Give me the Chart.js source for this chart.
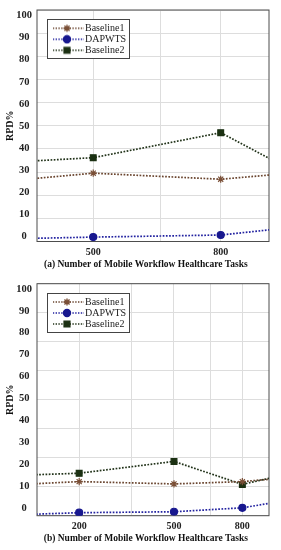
<!DOCTYPE html>
<html>
<head>
<meta charset="utf-8">
<script src="https://cdn.jsdelivr.net/npm/chart.js@4.4.1/dist/chart.umd.min.js"></script>
<style>
  body { margin: 0; background: #fff; }
  .box { position: relative; width: 281px; height: 275px; }
</style>
</head>
<body>
<div class="box"><canvas id="chartA"></canvas></div>
<div class="box"><canvas id="chartB"></canvas></div>
<script>
 const seriesNames = ['Baseline1', 'DAPWTS', 'Baseline2'];
 const yTicks = [0, 10, 20, 30, 40, 50, 60, 70, 80, 90, 100];

 // (a) - first and last task counts lie outside the visible range
 const tasksA = [200, 500, 800, 1100];
 const baseline1A = [22.6, 29.5, 26.9, 30.8];
 const dapwtsA = [0.3, 1.9, 2.8, 7.6];
 const baseline2A = [32.1, 36.2, 47.0, 22.9];
 const xGridA = [500, 650, 800];
 const xLabelsA = [500, 800];
 const yGridA = [0, 10, 20, 30, 40, 50, 60, 70, 80, 90, 100];
 const captionA = '(a) Number of Mobile Workflow Healthcare Tasks';

 // (b)
 const tasksB = [50, 200, 500, 800, 1100];
 const baseline1B = [13.0, 14.7, 13.7, 14.7, 16.8];
 const dapwtsB = [0.1, 1.3, 1.7, 3.4, 7.4];
 const baseline2B = [17.1, 18.3, 23.4, 13.5, 19.0];
 const xGridB = [200, 350, 500, 650, 800];
 const xLabelsB = [200, 500, 800];
 const yGridB = [0, 12.5, 25, 37.5, 50, 62.5, 75, 87.5, 100];
 const captionB = '(b) Number of Mobile Workflow Healthcare Tasks';

 const serif = "'Liberation Serif', 'Times New Roman', serif";
 Chart.defaults.font.family = serif;

 const styles = [
   { color: '#6a452f', point: 'star',   radius: 3.6, fill: '#7a4f36' },
   { color: '#2222a0', point: 'circle', radius: 3.5, fill: '#18188f' },
   { color: '#22331a', point: 'rect',   radius: 4.1, fill: '#1b3012' }
 ];

 // x axis of the figure is square-root spaced
 class SqrtScale extends Chart.LinearScale {
   getPixelForValue(value) {
     const lo = Math.sqrt(this.min), hi = Math.sqrt(this.max);
     return this.getPixelForDecimal((Math.sqrt(value) - lo) / (hi - lo));
   }
   getValueForPixel(pixel) {
     const lo = Math.sqrt(this.min), hi = Math.sqrt(this.max);
     const s = lo + this.getDecimalForPixel(pixel) * (hi - lo);
     return s * s;
   }
 }
 SqrtScale.id = 'sqrt';
 SqrtScale.defaults = Chart.LinearScale.defaults;
 Chart.register(SqrtScale);

 function toPoints(xs, ys) {
   return ys.map((v, i) => ({ x: xs[i], y: v }));
 }

 function legendSample(st) {
   const c = document.createElement('canvas');
   c.width = 34; c.height = 10;
   const g = c.getContext('2d');
   g.strokeStyle = st.color; g.lineWidth = 1.4; g.setLineDash([1.4, 1.4]);
   g.beginPath(); g.moveTo(0, 5); g.lineTo(34, 5); g.stroke();
   g.setLineDash([]);
   g.fillStyle = st.fill; g.strokeStyle = st.fill;
   Chart.helpers.drawPoint(g, { pointStyle: st.point, radius: st.radius, borderWidth: 1.2 }, 17, 5);
   return c;
 }

 const frame = {
   id: 'frame',
   beforeDatasetsDraw(chart) {
     const { ctx, chartArea: a } = chart;
     ctx.save();
     ctx.strokeStyle = '#4d4d4d';
     ctx.lineWidth = 1;
     ctx.strokeRect(a.left, a.top, a.width, a.height);
     ctx.restore();
   }
 };

 // legend sits inside the plot, in a white framed box
 const legendBox = {
   id: 'legendBox',
   afterInit(chart) {
     const lg = chart.legend;
     lg._layers = () => [{ z: 1, draw: () => {
       const ctx = chart.ctx, col = lg.columnSizes[0];
       const x0 = Math.round(lg.left - 6.3) + 0.5, y0 = Math.round(lg.top - 3.3) + 0.5;
       const w = Math.round(col.width + 10), h = Math.round(col.height + 5.7);
       ctx.save();
       ctx.fillStyle = '#fff';
       ctx.fillRect(x0, y0, w, h);
       ctx.strokeStyle = '#444';
       ctx.lineWidth = 1;
       ctx.strokeRect(x0, y0, w, h);
       ctx.restore();
       lg.draw();
     } }];
   },
   afterLayout(chart) {
     const lg = chart.legend, a = chart.chartArea;
     const dx = a.left + 16 - lg.left, dy = a.top + 12.3 - lg.top;
     lg.left += dx; lg.right += dx; lg.top += dy; lg.bottom += dy;
   }
 };

 function noPad(s) {
   s.paddingTop = 0; s.paddingBottom = 0; s.paddingLeft = 0; s.paddingRight = 0;
 }

 function makeChart(id, o) {
   const sets = [o.b1, o.dap, o.b2];
   return new Chart(document.getElementById(id), {
     type: 'line',
     data: {
       datasets: sets.map((ys, i) => ({
         label: seriesNames[i],
         data: toPoints(o.tasks, ys),
         xAxisID: 'x',
         yAxisID: 'y',
         borderColor: styles[i].color,
         borderWidth: 1.7,
         borderDash: [1.7, 1.5],
         pointStyle: styles[i].point,
         pointRadius: styles[i].radius,
         pointBackgroundColor: styles[i].fill,
         pointBorderColor: styles[i].fill,
         pointBorderWidth: 1.2,
         tension: 0
       }))
     },
     options: {
       animation: false,
       maintainAspectRatio: false,
       layout: { padding: { top: o.padTop, bottom: o.padBottom, left: 0, right: 12 } },
       scales: {
         x: {
           type: 'sqrt',
           position: 'bottom',
           min: o.xMin,
           max: o.xMax,
           afterBuildTicks: s => { s.ticks = o.xGrid.map(v => ({ value: v })); },
           afterFit: s => { s.height = 30; noPad(s); },
           grid: { color: '#dddddd', drawTicks: false },
           border: { display: false },
           ticks: {
             autoSkip: false, maxRotation: 0, padding: 5, color: '#222',
             font: { size: 10, weight: 'bold' },
             callback: v => o.xLabels.includes(v) ? String(v) : ''
           },
           title: {
             display: true, text: o.caption + '      ', color: '#111',
             font: { size: 9.5, weight: 'bold' },
             padding: { top: 0, bottom: 1 }
           }
         },
         yl: {
           position: 'left',
           min: o.yMin,
           max: o.yMax,
           afterBuildTicks: s => { s.ticks = yTicks.map(v => ({ value: v })); },
           afterFit: s => { s.width = 37; noPad(s); },
           grid: { display: false, drawTicks: false },
           border: { display: false },
           ticks: { crossAlign: 'center', padding: 5, color: '#222', font: { size: 10.5, weight: 'bold' } },
           title: { display: true, text: 'RPD%', color: '#111', font: { size: 10, weight: 'bold' } }
         },
         y: {
           position: 'right',
           min: 0,
           max: 100,
           afterBuildTicks: s => { s.ticks = o.yGrid.map(v => ({ value: v })); },
           afterFit: s => { s.width = 0; noPad(s); },
           grid: { color: '#dddddd', drawTicks: false },
           border: { display: false },
           ticks: { display: false }
         }
       },
       plugins: {
         tooltip: { enabled: false },
         legend: {
           position: 'chartArea',
           align: 'start',
           labels: {
             usePointStyle: true,
             pointStyleWidth: 26,
             padding: 1,
             color: '#222',
             font: { size: 10 },
             generateLabels: chart => chart.data.datasets.map((ds, i) => ({
               text: ds.label,
               fontColor: '#222',
               pointStyle: legendSample(styles[i]),
               hidden: false,
               datasetIndex: i,
               lineWidth: 0,
               strokeStyle: styles[i].color,
               fillStyle: styles[i].fill
             }))
           }
         }
       }
     },
     plugins: [frame, legendBox]
   });
 }

 const chartA = makeChart('chartA', {
   tasks: tasksA, b1: baseline1A, dap: dapwtsA, b2: baseline2A,
   xMin: 390, xMax: 932, xGrid: xGridA, xLabels: xLabelsA, yGrid: yGridA,
   yMin: -2.5, yMax: 102.6, caption: captionA, padTop: 10, padBottom: 3.5
 });

 const chartB = makeChart('chartB', {
   tasks: tasksB, b1: baseline1B, dap: dapwtsB, b2: baseline2B,
   xMin: 110, xMax: 936, xGrid: xGridB, xLabels: xLabelsB, yGrid: yGridB,
   yMin: -3.5, yMax: 102.4, caption: captionB, padTop: 8.7, padBottom: 4.3
 });
</script>
</body>
</html>
